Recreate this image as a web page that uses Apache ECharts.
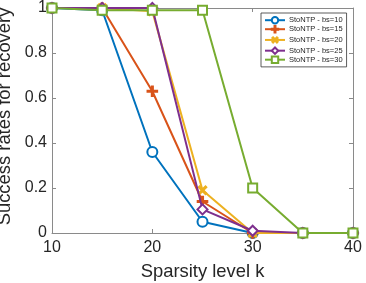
<!DOCTYPE html>
<html>
<head>
<meta charset="utf-8">
<script src="https://cdn.jsdelivr.net/npm/echarts@6/dist/echarts.min.js"></script>
<style>
html,body{margin:0;padding:0;background:#fff;}
#chart{width:366px;height:283px;}
</style>
</head>
<body>
<div id="chart"></div>
<script>
const sparsity = [10, 15, 20, 25, 30, 35, 40];
const seriesNames = ['StoNTP - bs=10', 'StoNTP - bs=15', 'StoNTP - bs=20', 'StoNTP - bs=25', 'StoNTP - bs=30'];
const bs10 = [1, 0.99, 0.36, 0.05, 0, 0, 0];
const bs15 = [1, 1, 0.63, 0.14, 0, 0, 0];
const bs20 = [1, 1, 0.985, 0.19, 0, 0, 0];
const bs25 = [1, 1, 1, 0.105, 0.01, 0, 0];
const bs30 = [1, 0.99, 0.99, 0.99, 0.20, 0, 0];
const xTicks = [10, 20, 30, 40];
const yTicks = [0, 0.2, 0.4, 0.6, 0.8, 1];

const colors = ['#0072BD', '#D95319', '#EDB120', '#7E2F8E', '#77AC30'];
const plusPath = 'path://M4.25,0h1.5v4.25h4.25v1.5h-4.25v4.25h-1.5v-4.25h-4.25v-1.5h4.25z';
const symbols = ['emptyCircle', plusPath, plusPath, 'emptyDiamond', 'emptyRect'];
const symbolRot = [0, 0, 45, 0, 0];
const symbolSizes = [10, 10, 10, 10, 9];
const allData = [bs10, bs15, bs20, bs25, bs30];

const font = 'Liberation Sans, Arial, Helvetica, sans-serif';
const axisColor = '#8a8a8a';
const textColor = '#262626';

const chart = echarts.init(document.getElementById('chart'), null, {renderer: 'canvas'});

const baseX = {
  type: 'value', min: xTicks[0], max: xTicks[xTicks.length - 1], interval: 10,
  axisLine: {show: true, onZero: false, lineStyle: {color: axisColor, width: 1}},
  axisTick: {show: true, inside: true, length: 4, lineStyle: {color: axisColor}},
  splitLine: {show: false}
};
const baseY = {
  type: 'value', min: yTicks[0], max: yTicks[yTicks.length - 1], interval: 0.2,
  axisLine: {show: true, onZero: false, lineStyle: {color: axisColor, width: 1}},
  axisTick: {show: true, inside: true, length: 4, lineStyle: {color: axisColor}},
  splitLine: {show: false}
};

const option = {
  animation: false,
  backgroundColor: '#fff',
  grid: {left: 52, right: 13, top: 8, bottom: 50, containLabel: false, outerBoundsMode: 'none'},
  legend: {
    orient: 'vertical',
    left: 261, top: 13,
    itemWidth: 20, itemHeight: 8, itemGap: 0.6,
    padding: [3, 4, 3, 3],
    borderColor: '#333', borderWidth: 0.8,
    backgroundColor: '#fff',
    textStyle: {fontSize: 7.5, lineHeight: 8, fontFamily: font, color: textColor, padding: [0, 0, 0, -1]},
    data: seriesNames
  },
  xAxis: [
    Object.assign({}, baseX, {
      position: 'bottom',
      name: 'Sparsity level k', nameLocation: 'middle', nameGap: 30,
      nameTextStyle: {fontSize: 18.4, fontFamily: font, color: textColor},
      axisLabel: {fontSize: 16, fontFamily: font, color: textColor, margin: 7,
        formatter: v => String(v)}
    }),
    Object.assign({}, baseX, {position: 'top', axisLabel: {show: false}})
  ],
  yAxis: [
    Object.assign({}, baseY, {
      position: 'left',
      name: 'Success rates for recovery', nameLocation: 'middle', nameGap: 30,
      nameTextStyle: {fontSize: 18.4, fontFamily: font, color: textColor, padding: [0, 0, 0, 8]},
      axisLabel: {fontSize: 16, fontFamily: font, color: textColor, margin: 5,
        formatter: v => String(Math.round(v * 10) / 10)}
    }),
    Object.assign({}, baseY, {position: 'right', axisLabel: {show: false}})
  ],
  series: allData.map((d, i) => ({
    name: seriesNames[i],
    type: 'line',
    xAxisIndex: 0, yAxisIndex: 0,
    data: sparsity.map((x, j) => [x, d[j]]),
    symbol: symbols[i],
    symbolRotate: symbolRot[i],
    symbolSize: symbolSizes[i],
    showAllSymbol: true,
    clip: false,
    lineStyle: {color: colors[i], width: 2},
    itemStyle: {color: colors[i], borderColor: colors[i], borderWidth: 1.6},
    z: 2 + i
  }))
};
chart.setOption(option);
</script>
</body>
</html>
